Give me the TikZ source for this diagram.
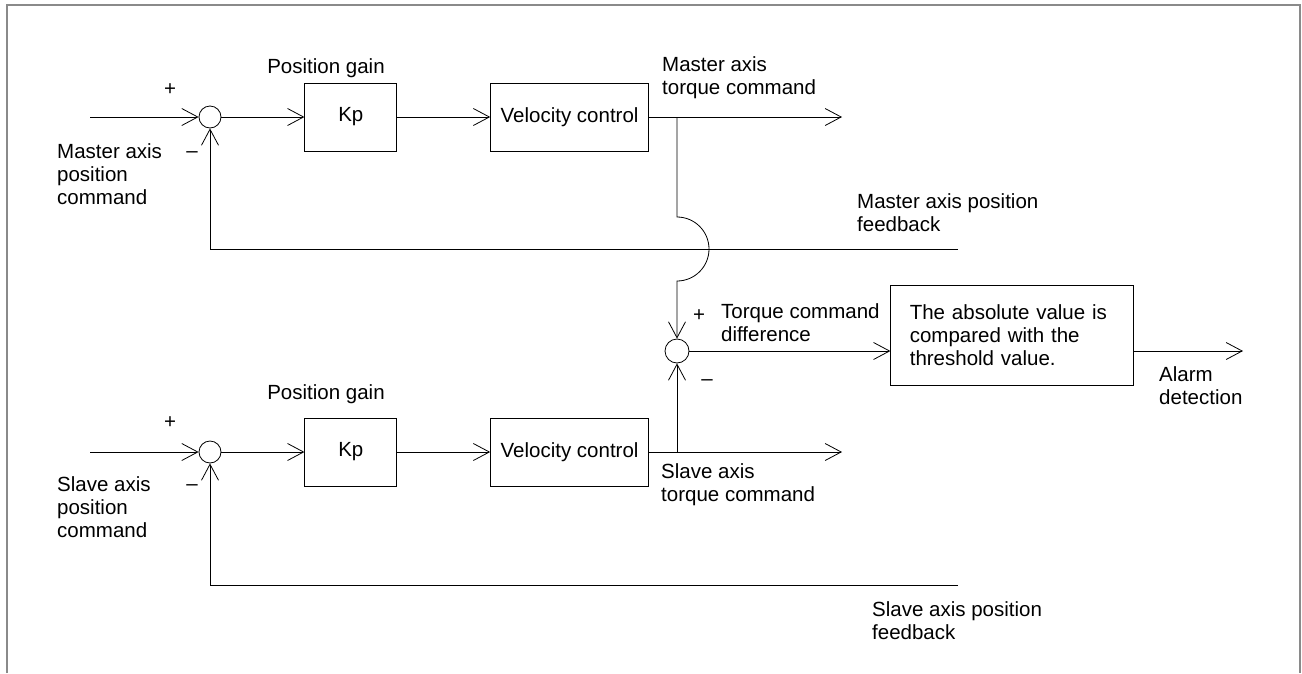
\documentclass[tikz,border=0pt]{standalone}
\usepackage{fontspec}
\setmainfont{Liberation Sans}
\usetikzlibrary{arrows.meta, positioning}
\definecolor{framegray}{HTML}{8A8A8A}

\begin{document}
\begin{tikzpicture}[
    x=1pt, y=-1pt,
    every node/.style={font=\fontsize{20.5}{23}\selectfont},
    block/.style={draw, line width=0.8pt, minimum height=68pt, inner sep=0pt},
    sumnode/.style={draw, circle, line width=0.8pt, minimum size=22pt, inner sep=0pt},
    signal/.style={line width=0.8pt, -{Straight Barb[length=16pt, width=17pt]}},
    wire/.style={line width=0.8pt},
    lbl/.style={anchor=west, align=left, inner sep=0pt},
    sign/.style={inner sep=0pt}
  ]
    \useasboundingbox (0,0) rectangle (1302,673);
    \draw[framegray, line width=2.5pt] (7,673) -- (7,5) -- (1300,5) -- (1300,673);

    % master axis loop
    \node[sumnode] (summ) at (210,117) {};
    \node[block, minimum width=92pt, right=83pt of summ] (kpm) {Kp};
    \node[block, minimum width=158pt, right=93pt of kpm] (velm) {Velocity control};
    \coordinate (inm) at (90,117);
    \coordinate (outm) at (842,117);
    \coordinate (branchm) at (677,117);
    \coordinate (hopm) at (677,217);
    \coordinate (fbm) at (958,249);

    % slave axis loop
    \node[sumnode] (sums) at (210,452) {};
    \node[block, minimum width=92pt, right=83pt of sums] (kps) {Kp};
    \node[block, minimum width=158pt, right=93pt of kps] (vels) {Velocity control};
    \coordinate (ins) at (90,452);
    \coordinate (outs) at (842,452);
    \coordinate (branchs) at (677,452);
    \coordinate (fbs) at (958,585);

    % difference and check
    \node[sumnode, minimum size=24pt] (sumd) at (677,351) {};
    \node[block, minimum width=243pt, minimum height=100pt, text width=205pt, align=left,
          right=201pt of sumd, yshift=16pt] (check)
      {The absolute value is\\compared with the\\threshold value.};
    \coordinate (alarm) at (1243,351);

    \draw[signal] (inm) -- (summ);
    \draw[signal] (summ) -- (kpm);
    \draw[signal] (kpm) -- (velm);
    \draw[signal] (velm) -- (outm);
    \draw[signal] (fbm) -| (summ);
    \draw[signal] (branchm) -- (hopm) arc[start angle=90, end angle=-90, radius=32pt] -- (sumd);

    \draw[signal] (ins) -- (sums);
    \draw[signal] (sums) -- (kps);
    \draw[signal] (kps) -- (vels);
    \draw[signal] (vels) -- (outs);
    \draw[signal] (fbs) -| (sums);
    \draw[signal] (branchs) -- (sumd);

    \draw[signal] (sumd) -- (sumd -| check.west);
    \draw[signal] (sumd -| check.east) -- (alarm);

    % labels
    \node at (326,68) {Position gain};
    \node at (326,394) {Position gain};
    \node[sign] at (170,90) {+};
    \node[sign] at (192,155) {–};
    \node[sign] at (170,423) {+};
    \node[sign] at (192,488) {–};
    \node[sign] at (699,316) {+};
    \node[sign] at (707,383) {–};
    \node[lbl] at (57,174) {Master axis\\position\\command};
    \node[lbl] at (57,507) {Slave axis\\position\\command};
    \node[lbl] at (662,78) {Master axis\\torque command};
    \node[lbl] at (661,485) {Slave axis\\torque command};
    \node[lbl] at (857,213) {Master axis position\\feedback};
    \node[lbl] at (872,621) {Slave axis position\\feedback};
    \node[lbl] at (721,323) {Torque command\\difference};
    \node[lbl] at (1159,386) {Alarm\\detection};
  \end{tikzpicture}
\end{document}
